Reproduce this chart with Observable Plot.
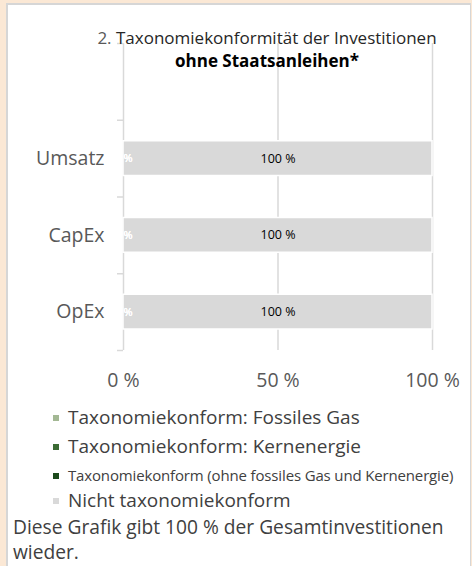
<!DOCTYPE html>
<html><head><meta charset="utf-8">
<script src="https://cdn.jsdelivr.net/npm/d3@7"></script>
<script src="https://cdn.jsdelivr.net/npm/@observablehq/plot@0.6"></script>
<style>
html,body{margin:0;padding:0;}
body{width:472px;height:566px;overflow:hidden;background:#fbe8d5;font-family:"Open Sans",sans-serif;position:relative;}
#panel{position:absolute;left:6px;top:3px;width:462px;height:600px;background:#fff;border-left:2px solid #d6d6d6;border-top:2px solid #d6d6d6;border-right:1px solid #d6d6d6;}
#chart{position:absolute;left:0;top:0;}
#title{position:absolute;left:67px;width:400px;top:26px;text-align:center;font-size:17px;line-height:23px;color:#262626;z-index:2;}
#title .num{color:#595959;}
#title b{color:#000;}
.leg{position:absolute;left:53px;height:18px;line-height:18px;font-size:19px;color:#404040;white-space:nowrap;}
.leg span.sw{display:inline-block;width:6px;height:6px;margin-right:9px;vertical-align:middle;position:relative;top:-1px;}
#caption{position:absolute;left:13px;top:514px;font-size:19.2px;line-height:25px;color:#404040;width:452px;}
</style></head>
<body>
<div id="panel"></div>
<div id="chart"></div>
<div id="title"><span class="num">2.</span> Taxonomiekonformität der Investitionen<br><b>ohne Staatsanleihen*</b></div>
<div id="legend"></div>
<div id="caption">Diese Grafik gibt 100 % der Gesamtinvestitionen wieder.</div>
<script>
const categories = ["Umsatz", "CapEx", "OpEx"];
const seriesNames = [
  "Taxonomiekonform: Fossiles Gas",
  "Taxonomiekonform: Kernenergie",
  "Taxonomiekonform (ohne fossiles Gas und Kernenergie)",
  "Nicht taxonomiekonform"
];
const fossilGas = [0, 0, 0];
const nuclear = [0, 0, 0];
const alignedOther = [0, 0, 0];
const notAligned = [100, 100, 100];
const seriesColors = ["#a3b894", "#3b6b34", "#1c4a1c", "#d9d9d9"];
const xTicks = [0, 50, 100];

const seriesValues = [fossilGas, nuclear, alignedOther, notAligned];
const segments = categories.flatMap((cat, i) => {
  let acc = 0;
  return seriesNames.map((s, k) => {
    const v = seriesValues[k][i];
    const seg = {cat, band: i + 1, series: s, k, v, x1: acc, x2: acc + v};
    acc += v;
    return seg;
  });
});
const yDomain = [0, categories.length + 1];
const bandEdges = d3.range(yDomain[0], yDomain[1] + 1);

const plot = Plot.plot({
  width: 472,
  height: 400,
  marginLeft: 123,
  marginRight: 40,
  marginTop: 43,
  marginBottom: 50,
  style: {fontFamily: "'Open Sans', sans-serif", background: "transparent", overflow: "visible"},
  x: {domain: [0, 100]},
  y: {domain: yDomain, reverse: true},
  color: {domain: seriesNames, range: seriesColors},
  marks: [
    Plot.ruleX(xTicks, {y1: yDomain[0], y2: yDomain[1], stroke: "#d9d9d9", strokeWidth: 1.5}),
    Plot.rectX(segments.filter(d => d.v > 0), {x1: "x1", x2: "x2", y1: "band", y2: d => d.band + 1, insetTop: 21, insetBottom: 21, fill: "series", stroke: "#fff", strokeWidth: 1.5}),
    Plot.axisY(bandEdges, {tickSize: 6, tickFormat: () => "", label: null, stroke: "#d9d9d9", strokeWidth: 1.5}),
    Plot.axisX(xTicks, {tickSize: 0, tickPadding: 23, tickFormat: d => `${d} %`, label: null, fontSize: 19.5, fill: "#595959"}),
    Plot.text(segments.filter(d => d.k < 3), {x: d => (d.x1 + d.x2) / 2, y: d => d.band + 0.5, text: d => `${d.v} %`, fill: "#fff", fontSize: 11}),
    Plot.text(segments.filter(d => d.k === 3), {x: d => (d.x1 + d.x2) / 2, y: d => d.band + 0.5, text: d => `${d.v} %`, fill: "#000", fontSize: 12.5}),
    Plot.text(categories, {x: () => 0, y: (d, i) => i + 1.5, text: d => d, dx: -19, textAnchor: "end", fontSize: 19.5, fill: "#595959"})
  ]
});
document.getElementById("chart").appendChild(plot);

const legendCenters = [417, 446, 475, 500];
const legend = document.getElementById("legend");
seriesNames.forEach((name, k) => {
  const row = document.createElement("div");
  row.className = "leg";
  row.style.top = (legendCenters[k] - 9) + "px";
  if (k === 2) { row.style.fontSize = "15px"; row.style.letterSpacing = "-0.15px"; }
  const sw = document.createElement("span");
  sw.className = "sw";
  sw.style.background = seriesColors[k];
  row.appendChild(sw);
  row.appendChild(document.createTextNode(name));
  legend.appendChild(row);
});
</script>
</body></html>
